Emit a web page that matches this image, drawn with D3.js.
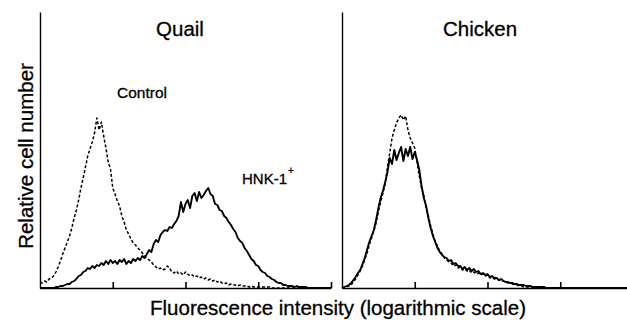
<!DOCTYPE html>
<html>
<head>
<meta charset="utf-8">
<script src="https://cdn.jsdelivr.net/npm/d3@7/dist/d3.min.js"></script>
<style>
body { margin: 0; background: #fff; }
</style>
</head>
<body>
<div id="chart"></div>
<script>
// channels (256 per 4 decades, binned by 2)
var channels = [
    0, 2, 4, 6, 8, 10, 12, 14, 16, 18, 20, 22, 24, 26, 28, 30,
    32, 34, 36, 38, 40, 42, 44, 46, 48, 50, 52, 54, 56, 58, 60, 62,
    64, 66, 68, 70, 72, 74, 76, 78, 80, 82, 84, 86, 88, 90, 92, 94,
    96, 98, 100, 102, 104, 106, 108, 110, 112, 114, 116, 118, 120, 122, 124, 126,
    128, 130, 132, 134, 136, 138, 140, 142, 144, 146, 148, 150, 152, 154, 156, 158,
    160, 162, 164, 166, 168, 170, 172, 174, 176, 178, 180, 182, 184, 186, 188, 190,
    192, 194, 196, 198, 200, 202, 204, 206, 208, 210, 212, 214, 216, 218, 220, 222,
    224, 226, 228, 230, 232, 234, 236, 238, 240, 242, 244, 246, 248, 250, 252, 254,
    256
]
var decadeTicks = [64, 128, 192, 256]

var quailControl = [
    6, 5, 7, 6, 9, 10, 12, 16, 21, 27, 34, 40, 46, 52, 60, 70,
    78, 88, 100, 110, 121, 132, 139, 146, 155, 170, 158, 166, 152, 140, 126, 119,
    100, 94, 87, 82, 72, 66, 58, 54, 49, 45, 43, 40, 38, 35, 32, 30,
    28, 26, 23, 21, 19, 20, 18, 19, 22, 20, 16, 15, 17, 14, 15, 13,
    16, 14, 12, 13, 11, 12, 10, 11, 9, 10, 8, 9, 7, 8, 6, 7,
    5, 4, 5, 3, 4, 3, 3, 2, 3, 2, 2, 2, 1, 2, 1, 1,
    1, 1, 1, 1, 1, 1, 0, 0, 0, 0, 0, 0, 0, 0, 0, 0,
    0, 0, 0, 0, 0, 0, 0, 0, 0, 0, 0, 0, 0, 0, 0, 0,
    0
]
var quailHNK = [
    0, 0, 0, 0, 0, 0, 0, 1, 1, 2, 2, 3, 4, 4, 6, 7,
    9, 12, 13, 16, 17, 20, 19, 22, 20, 23, 22, 25, 23, 27, 24, 28,
    25, 27, 24, 28, 26, 29, 24, 27, 25, 29, 27, 30, 28, 32, 30, 34,
    38, 36, 44, 48, 46, 53, 56, 58, 57, 61, 60, 64, 67, 72, 86, 76,
    84, 88, 80, 92, 95, 87, 96, 90, 93, 97, 100, 94, 92, 84, 83, 78,
    77, 72, 70, 66, 63, 59, 56, 50, 47, 45, 40, 37, 33, 29, 27, 23,
    22, 18, 16, 15, 12, 11, 9, 8, 6, 5, 5, 3, 3, 2, 2, 2,
    1, 2, 1, 1, 1, 1, 0, 0, 0, 0, 0, 0, 0, 0, 0, 0,
    0
]
var chickenHNK = [
    0, 1, 2, 3, 5, 8, 11, 15, 18, 24, 30, 38, 46, 52, 58, 68,
    80, 90, 97, 106, 116, 130, 124, 138, 128, 135, 141, 127, 139, 132, 141, 129,
    136, 128, 118, 102, 90, 82, 70, 60, 52, 46, 40, 36, 33, 31, 30, 27,
    28, 24, 25, 22, 22, 19, 21, 18, 20, 17, 19, 16, 17, 14, 15, 13,
    14, 11, 12, 10, 10, 8, 9, 7, 6, 6, 5, 5, 4, 4, 3, 3,
    3, 2, 2, 2, 1, 1, 1, 1, 1, 1, 0, 0, 0, 0, 0, 0,
    0, 0, 0, 0, 0, 0, 0, 0, 0, 0, 0, 0, 0, 0, 0, 0,
    0, 0, 0, 0, 0, 0, 0, 0, 0, 0, 0, 0, 0, 0, 0, 0,
    0
]
var chickenControl = [
    0, 0, 1, 2, 3, 6, 9, 13, 17, 22, 28, 35, 43, 50, 57, 65,
    76, 86, 95, 104, 121, 135, 150, 158, 165, 170, 173, 168, 172, 158, 150, 145,
    140, 126, 112, 100, 92, 80, 72, 62, 54, 46, 42, 37, 34, 30, 28, 26,
    25, 22, 23, 20, 21, 18, 19, 17, 18, 15, 16, 14, 15, 13, 14, 12,
    13, 10, 11, 9, 9, 8, 7, 7, 6, 5, 5, 4, 3, 3, 2, 2,
    1, 1, 1, 1, 0, 0, 0, 0, 0, 0, 0, 0, 0, 0, 0, 0,
    0, 0, 0, 0, 0, 0, 0, 0, 0, 0, 0, 0, 0, 0, 0, 0,
    0, 0, 0, 0, 0, 0, 0, 0, 0, 0, 0, 0, 0, 0, 0, 0,
    0
]

var w = 627
var h = 320
var font = "'Liberation Sans', Arial, Helvetica, sans-serif"

var svg = d3.select("#chart").append("svg")
    .attr("width", w).attr("height", h)
    .style("background", "#fff")

var y = d3.scaleLinear().domain([0, 276]).range([288, 12])
var xQuail = d3.scaleLinear().domain([0, 256]).range([40, 331])
var xChicken = d3.scaleLinear().domain([0, 256]).range([342, 633])

var drawPanel = (x, ticks) => {
    var g = svg.append("g")
    g.append("g").attr("transform", "translate(0,288)")
        .call(d3.axisBottom(x).tickValues(ticks).tickSize(-6).tickSizeOuter(0).tickFormat(""))
        .call(a => a.selectAll("path,line").attr("stroke", "#000").attr("stroke-width", 1.6))
    g.append("g").attr("transform", "translate(" + x(0) + ",0)")
        .call(d3.axisLeft(y).tickValues([]).tickSizeOuter(0))
        .call(a => a.selectAll("path").attr("stroke", "#000").attr("stroke-width", 1.4))
    return g
}

var drawLine = (g, x, dataset, dashed) => {
    var lineFunc = d3.line()
        .x((d, i) => x(channels[i]))
        .y(d => y(d))
    g.append("path")
        .attr("d", lineFunc(dataset))
        .attr("fill", "none")
        .attr("stroke", "#000")
        .attr("stroke-width", dashed ? 1.5 : 1.9)
        .attr("stroke-linejoin", "round")
        .attr("stroke-dasharray", dashed ? "3,2" : null)
}

var left = drawPanel(xQuail, decadeTicks)
drawLine(left, xQuail, quailControl, true)
drawLine(left, xQuail, quailHNK, false)

var right = drawPanel(xChicken, decadeTicks.slice(0, 3))
drawLine(right, xChicken, chickenControl, true)
drawLine(right, xChicken, chickenHNK, false)

var label = (txt, px, py, size, anchor) => {
    return svg.append("text")
        .attr("x", px).attr("y", py)
        .attr("font-family", font)
        .attr("font-size", size)
        .attr("text-anchor", anchor || "start")
        .attr("fill", "#000")
        .attr("stroke", "#000")
        .attr("stroke-width", 0.3)
        .text(txt)
}

label("Quail", 180, 36, 20.5, "middle")
label("Chicken", 480, 36, 20.5, "middle")
label("Control", 117, 98, 15.5)
label("HNK-1", 242, 184, 15)
label("+", 288, 174, 10)
label("Fluorescence intensity (logarithmic scale)", 338, 315, 20.5, "middle")
svg.append("text")
    .attr("transform", "translate(33,156) rotate(-90)")
    .attr("font-family", font)
    .attr("font-size", 20.5)
    .attr("text-anchor", "middle")
    .attr("stroke", "#000")
    .attr("stroke-width", 0.3)
    .text("Relative cell number")
</script>
</body>
</html>
